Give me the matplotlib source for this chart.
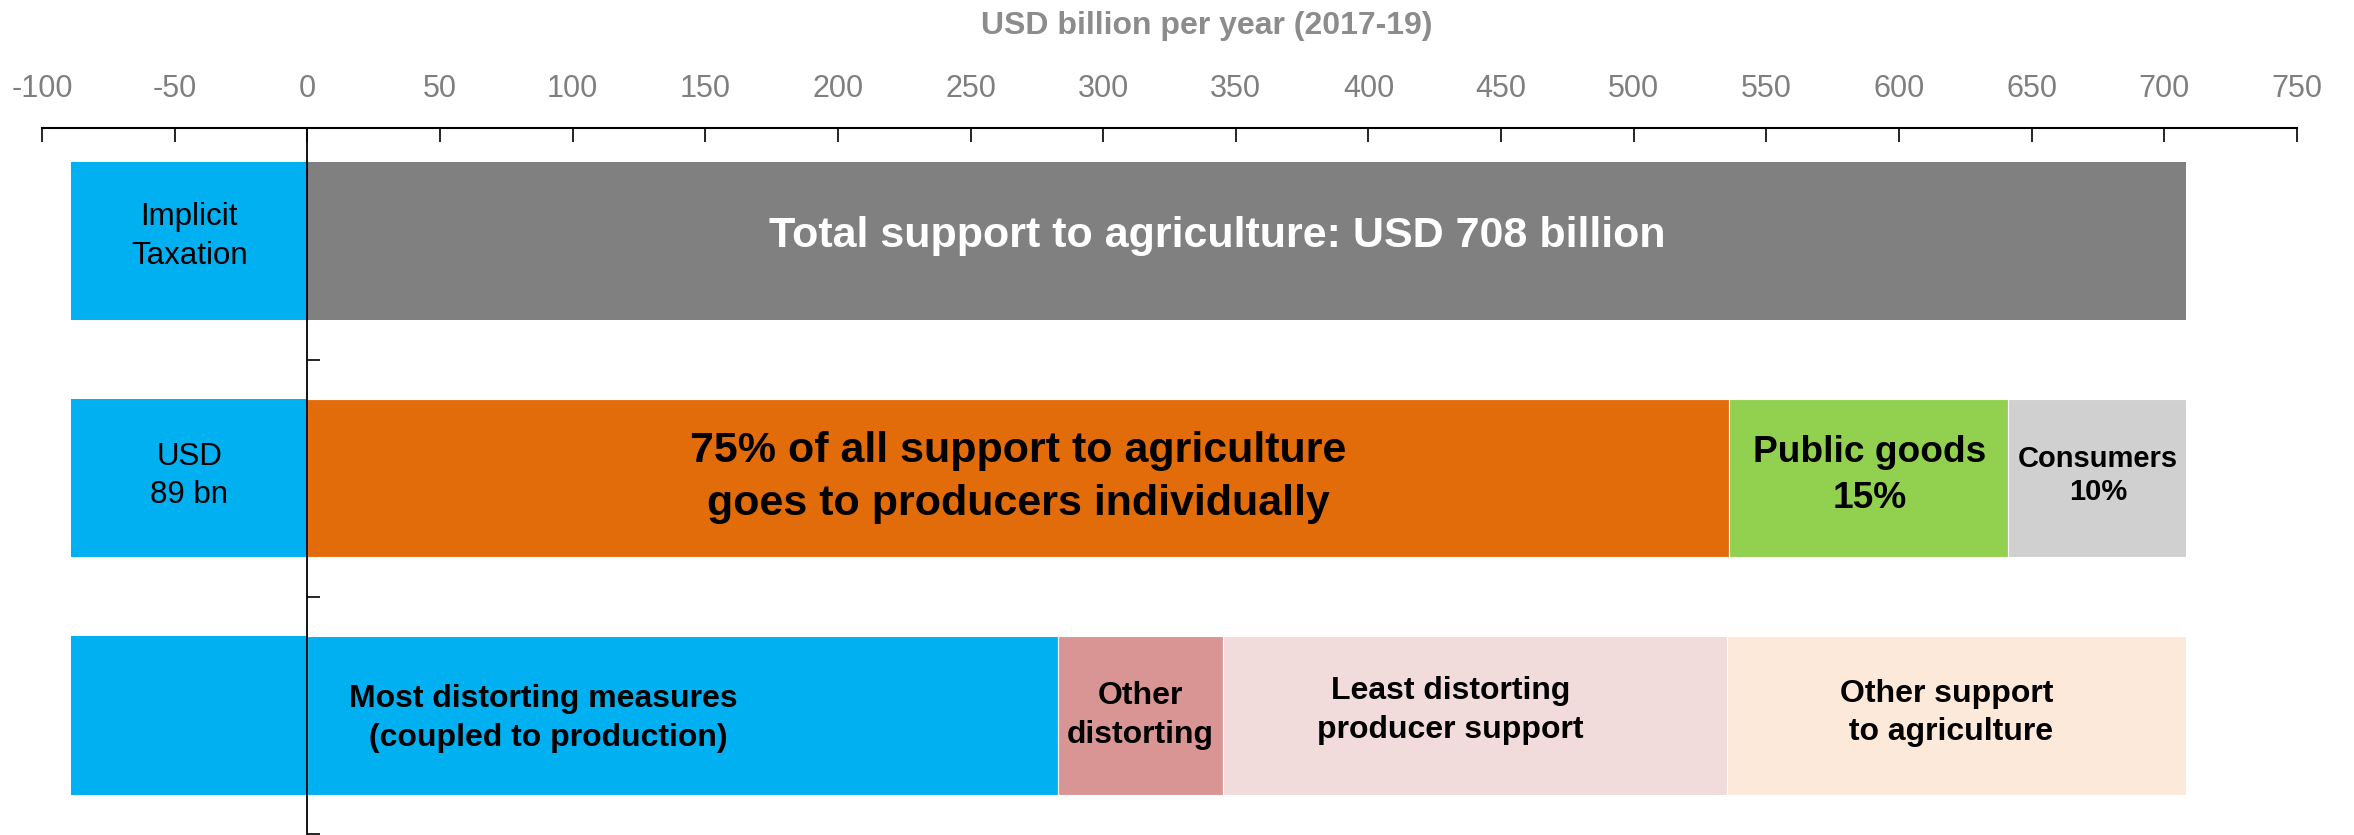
import matplotlib
matplotlib.use("Agg")
import matplotlib.pyplot as plt

plt.rcParams['font.family'] = ['Liberation Sans', 'DejaVu Sans']

# data (USD billion per year, 2017-19)
rows = [0, 1, 2]
implicit_taxation = 89
total_support = 708
row2_values = [536, 105, 67]          # producers, public goods, consumers
row2_colors = ['#E36C0A', '#92D050', '#D0D0D0']
row3_values = [283, 62, 190, 173]     # most distorting, other distorting, least distorting, other
row3_colors = ['#00B0F0', '#D99594', '#F2DCDB', '#FDE9D9']

xticks = list(range(-100, 751, 50))

BLUE = '#00B0F0'
GREY = '#808080'

fig = plt.figure(figsize=(23.54, 8.35), dpi=100)
ax = fig.add_axes([42 / 2354, 1 / 835, 2255 / 2354, 706 / 835])

h = 0.667
# implicit taxation on the negative side of every row
ax.barh(rows, [-implicit_taxation] * 3, height=h, color=BLUE, linewidth=0)

# row 1: total support
ax.barh(0, total_support, height=h, color=GREY, linewidth=0)

# row 2
left = 0
for v, c in zip(row2_values, row2_colors):
    ax.barh(1, v, left=left, height=h, color=c, edgecolor='white', linewidth=0.8)
    left += v

# row 3
left = 0
for v, c in zip(row3_values, row3_colors):
    ax.barh(2, v, left=left, height=h, color=c, edgecolor='white', linewidth=0.8)
    left += v

# labels inside bars
ax.text(-implicit_taxation / 2, -0.02, 'Implicit\nTaxation', ha='center', va='center',
        fontsize=22.5, color='black', linespacing=1.38)
ax.text(-implicit_taxation / 2, 0.99, 'USD\n89 bn', ha='center', va='center',
        fontsize=22.5, color='black', linespacing=1.38)
ax.text(343, -0.02, 'Total support to agriculture: USD 708 billion', ha='center', va='center',
        fontsize=31, fontweight='bold', color='white')
ax.text(268, 0.996, '75% of all support to agriculture\ngoes to producers individually',
        ha='center', va='center', fontsize=31, fontweight='bold', color='black', linespacing=1.4)
ax.text(589, 0.99, 'Public goods\n15%', ha='center', va='center',
        fontsize=26.7, fontweight='bold', color='black', linespacing=1.41)
ax.text(675, 0.99, 'Consumers\n10%', ha='center', va='center',
        fontsize=21, fontweight='bold', color='black', linespacing=1.22)
ax.text(89, 2.013, 'Most distorting measures\n (coupled to production)', ha='center', va='center',
        fontsize=23, fontweight='bold', color='black', linespacing=1.37)
ax.text(314, 2.0, 'Other\ndistorting', ha='center', va='center',
        fontsize=23, fontweight='bold', color='black', linespacing=1.37)
ax.text(431, 1.98, 'Least distorting\nproducer support', ha='center', va='center',
        fontsize=23, fontweight='bold', color='black', linespacing=1.37)
ax.text(618, 1.99, 'Other support\n to agriculture', ha='center', va='center',
        fontsize=23, fontweight='bold', color='black', linespacing=1.37)

# axes styling
ax.set_xlim(-100, 750)
ax.set_ylim(2.5, -0.477)
ax.xaxis.tick_top()
ax.set_xticks(xticks)
ax.set_xticklabels([str(t) for t in xticks])
ax.tick_params(axis='x', direction='in', length=10, width=1.2, pad=17,
               labelsize=22, labelcolor='#7F7F7F', color='black')
ax.set_yticks([0.5, 1.5, 2.5])
ax.set_yticklabels([])
ax.tick_params(axis='y', direction='in', length=9, width=1.2)

ax.spines['left'].set_position(('data', 0))
ax.spines['left'].set_linewidth(1.3)
ax.spines['left'].set_zorder(5)
ax.spines['top'].set_linewidth(1.5)
ax.spines['bottom'].set_visible(False)
ax.spines['right'].set_visible(False)

fig.text(1207 / 2354, 1 - 26 / 835, 'USD billion per year (2017-19)', ha='center', va='center',
         fontsize=23, fontweight='bold', color='#8C8C8C')

fig.savefig('out.png', dpi=100)
